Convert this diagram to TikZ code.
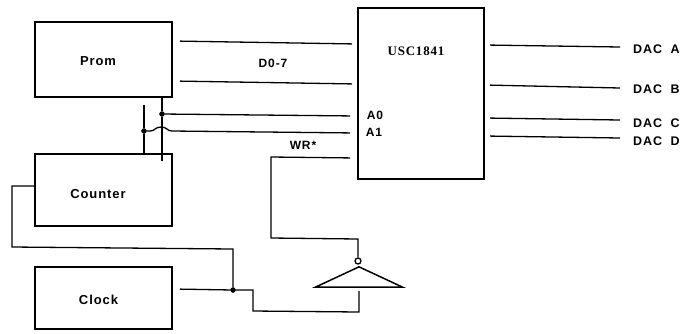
\documentclass[tikz,border=0pt]{standalone}
\usepackage{fontspec}
\setmainfont{Liberation Sans}[LetterSpace=7,WordSpace=2]
\newfontfamily\chipfont{Liberation Serif}[LetterSpace=6]
\usetikzlibrary{shapes,arrows}
\tikzstyle{block} = [draw,line width = 2,minimum width = 137,minimum height = 72,inner sep = 0]
\tikzstyle{chip} = [draw,line width = 2,minimum width = 126,minimum height = 171,inner sep = 0]
\tikzstyle{wire} = [line width = 1.3]
\tikzstyle{dot} = [draw,fill=black,circle,inner sep = 0,minimum size = 5]
\tikzstyle{title} = [inner sep = 0,font = \fontsize{13}{15}\selectfont\bfseries]
\tikzstyle{dac} = [anchor = west,inner sep = 0,inner xsep = 13,font = \fontsize{12.5}{14}\selectfont\bfseries]
\tikzstyle{pin} = [inner sep = 0,font = \fontsize{12}{14}\selectfont\bfseries]

\begin{document}
\begin{tikzpicture}[x=1pt,y=-1pt,node distance=130.5pt]
\useasboundingbox (0,0) rectangle (684,333);

\node[block, minimum height = 75] (prom) at (103.5,59.5) {};
\node[block, below of = prom] (counter) {};
\node[block, minimum height = 62, below of = counter, node distance = 108pt] (clock) {};
\node[chip] (usc) at (421,93) {};

\node[title] (promname) at (98,61) {Prom};
\node[title] (countername) at (98,194) {Counter};
\node[title] (clockname) at (98.5,300) {Clock};
\node[inner sep = 0, font = \chipfont\fontsize{13}{15}\selectfont\bfseries] (name) at (416,51) {USC1841};

\node[pin] (data) at (273,63) {D0-7};
\node[pin] (a0) at (375,115) {A0};
\node[pin] (a1) at (374,132) {A1};
\node[pin] (wr) at (303,145) {WR*};

\node[dac] (daca) at (620,49) {DAC A};
\node[dac] (dacb) at (620,89) {DAC B};
\node[dac] (dacc) at (620,123) {DAC C};
\node[dac] (dacd) at (620,141) {DAC D};

\node[dot] (j0) at (162,114) {};
\node[dot] (j1) at (144,131) {};
\node[dot] (j2) at (233,290) {};
\node[draw, circle, wire, inner sep = 0, minimum size = 6, fill = white] (bubble) at (358,261) {};
\node[draw, isosceles triangle, isosceles triangle apex angle = 130, shape border rotate = 90, line width = 1.5, inner sep = 0, minimum height = 19, minimum width = 87, anchor = apex] (inv) at (359,266) {};

\path[wire, shorten >= 5, shorten <= 7]
([yshift = 18.5]prom.east) edge ([yshift = 49]usc.west)
([yshift = -21.5]prom.east) edge ([yshift = 9]usc.west);

\path[wire, shorten <= 5]
([yshift = 48]usc.east) edge ([yshift = 2]daca.west)
([yshift = 8]usc.east) edge ([yshift = 1]dacb.west)
([yshift = -25]usc.east) edge ([yshift = 3]dacc.west)
([yshift = -43]usc.east) edge ([yshift = 3]dacd.west);

\draw[wire] (j0) -- (162,98);
\draw[wire] (j0) -- (162,161);
\draw[wire] (j1) -- (144,105);
\draw[wire] (j1) -- (144,154);
\draw[wire, shorten >= 7] (j0) -- ([yshift = -23]usc.west);
\draw[wire, shorten >= 7] (j1) -- (150,131) .. controls (155,131) and (155,127) .. (161,127) .. controls (167,127) and (167,131) .. (172,131) -- ([yshift = -40]usc.west);

\draw[wire] ([yshift = 4]counter.west) -- (12,186) -- (12,247) -- (233,249) -- (j2);
\draw[wire, shorten <= 7] ([yshift = 9]clock.east) -- (j2);
\draw[wire] (j2) -- (253,290) -- (253,311) -- (359,312) -- (359,291);
\draw[wire, shorten <= 7] ([yshift = -65]usc.west) -- (271,157) -- (271,238) -- (358,239) -- (bubble);
\end{tikzpicture}
\end{document}
